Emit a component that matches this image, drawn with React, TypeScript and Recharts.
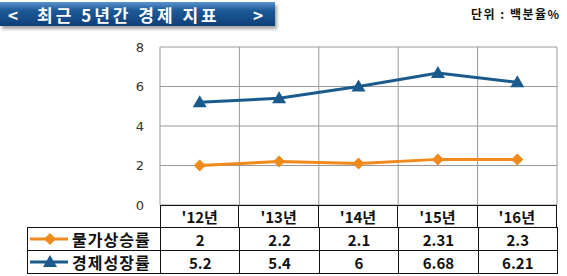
import React from 'react'
import { ComposedChart, Line, XAxis, YAxis, CartesianGrid } from 'recharts'

document.body.style.margin = '0'

const years = ["'12년", "'13년", "'14년", "'15년", "'16년"]
const inflation = [2, 2.2, 2.1, 2.31, 2.3]
const growth = [5.2, 5.4, 6, 6.68, 6.21]
const yTicks = [0, 2, 4, 6, 8]

const ORANGE = '#f08a1c'
const BLUE = '#1b5b8c'
const KR = '"Noto Sans CJK KR", "Liberation Sans", sans-serif'

const data = years.map((y, i) => ({ year: y, inflation: inflation[i], growth: growth[i] }))

const series = [
    { key: 'inflation', name: '물가상승률', color: ORANGE, shape: 'diamond', values: inflation },
    { key: 'growth', name: '경제성장률', color: BLUE, shape: 'triangle', values: growth },
]

function Marker({ cx, cy, shape, color }: any) {
    if (cx == null || cy == null) return null
    if (shape === 'diamond') {
        return <path d={`M${cx},${cy - 6}L${cx + 6},${cy}L${cx},${cy + 6}L${cx - 6},${cy}Z`} fill={color} />
    }
    return <path d={`M${cx},${cy - 7}L${cx + 7},${cy + 5}L${cx - 7},${cy + 5}Z`} fill={color} />
}

const PLOT_L = 160
const PLOT_R = 557
const COL_W = (PLOT_R - PLOT_L) / years.length
const TABLE_TOP = 205
const ROW_H = [23, 23, 23]

export default function App() {
    const cell = (left: number, top: number, width: number, height: number): React.CSSProperties => ({
        position: 'absolute', left, top, width, height, boxSizing: 'border-box',
        border: '1px solid #111', display: 'flex', alignItems: 'center', justifyContent: 'center',
        fontFamily: KR, fontWeight: 700, fontSize: 15, color: '#111',
    })
    return (
        <div style={{ position: 'relative', width: 567, height: 276, background: '#fff', overflow: 'hidden' }}>
            <div style={{
                position: 'absolute', left: 0, top: 2, width: 275, height: 24,
                background: 'linear-gradient(#5b93cf, #1d5a98 35%, #0f3f77)',
                boxShadow: '2px 3px 3px rgba(0,0,0,0.35)',
                color: '#fff', fontFamily: KR, fontWeight: 700, fontSize: 17,
                display: 'flex', alignItems: 'center', whiteSpace: 'pre',
            }}>
                <span style={{ position: 'absolute', left: 8 }}>&lt;</span>
                <span style={{ position: 'absolute', left: 37, letterSpacing: 3 }}>최근 5년간 경제 지표</span>
                <span style={{ position: 'absolute', left: 253 }}>&gt;</span>
            </div>
            <div style={{
                position: 'absolute', left: 471, top: 5, fontFamily: KR, fontWeight: 700,
                fontSize: 12, letterSpacing: 1.5, color: '#111', whiteSpace: 'pre',
            }}>단위 : 백분율%</div>

            <div style={{ position: 'absolute', left: 0, top: 0 }}>
                <ComposedChart width={567} height={276} data={data}
                    margin={{ top: 47, right: 567 - PLOT_R, left: PLOT_L - 30, bottom: 276 - TABLE_TOP }}>
                    <CartesianGrid stroke="#9a9a9a" strokeWidth={1}
                        verticalCoordinatesGenerator={({ offset }: any) =>
                            years.map((_, i) => offset.left + (i * offset.width) / years.length).concat(offset.left + offset.width)} />
                    <XAxis dataKey="year" scale="band" hide />
                    <YAxis width={30} domain={[0, 8]} ticks={yTicks} axisLine={false} tickLine={false} tickMargin={10}
                        tick={{ fill: '#333', fontSize: 13, fontFamily: '"DejaVu Sans", sans-serif' }} />
                    {series.map((s) => (
                        <Line key={s.key} dataKey={s.key} stroke={s.color} strokeWidth={3} isAnimationActive={false}
                            dot={(p: any) => <Marker key={p.index} cx={p.cx} cy={p.cy} shape={s.shape} color={s.color} />}
                            activeDot={false} />
                    ))}
                </ComposedChart>
            </div>

            {years.map((y, i) => (
                <div key={y} style={cell(PLOT_L + i * COL_W - (i ? 1 : 0), TABLE_TOP, COL_W + (i ? 1 : 0), ROW_H[0])}>{y}</div>
            ))}
            {series.map((s, r) => {
                const top = TABLE_TOP + ROW_H[0] + r * ROW_H[1] - 1
                return (
                    <React.Fragment key={s.key}>
                        <div style={{ ...cell(27, top, PLOT_L - 27 + 1, ROW_H[1] + 1), justifyContent: 'flex-start' }}>
                            <svg width={40} height={14} style={{ marginLeft: 2 }}>
                                <line x1={0} y1={7} x2={38} y2={7} stroke={s.color} strokeWidth={3} />
                                <Marker cx={20} cy={7} shape={s.shape} color={s.color} />
                            </svg>
                            <span style={{ fontSize: 16, letterSpacing: 1, marginLeft: 2 }}>{s.name}</span>
                        </div>
                        {s.values.map((v, i) => (
                            <div key={i} style={cell(PLOT_L + i * COL_W, top, COL_W + 1, ROW_H[1] + 1)}>{v}</div>
                        ))}
                    </React.Fragment>
                )
            })}
        </div>
    )
}
